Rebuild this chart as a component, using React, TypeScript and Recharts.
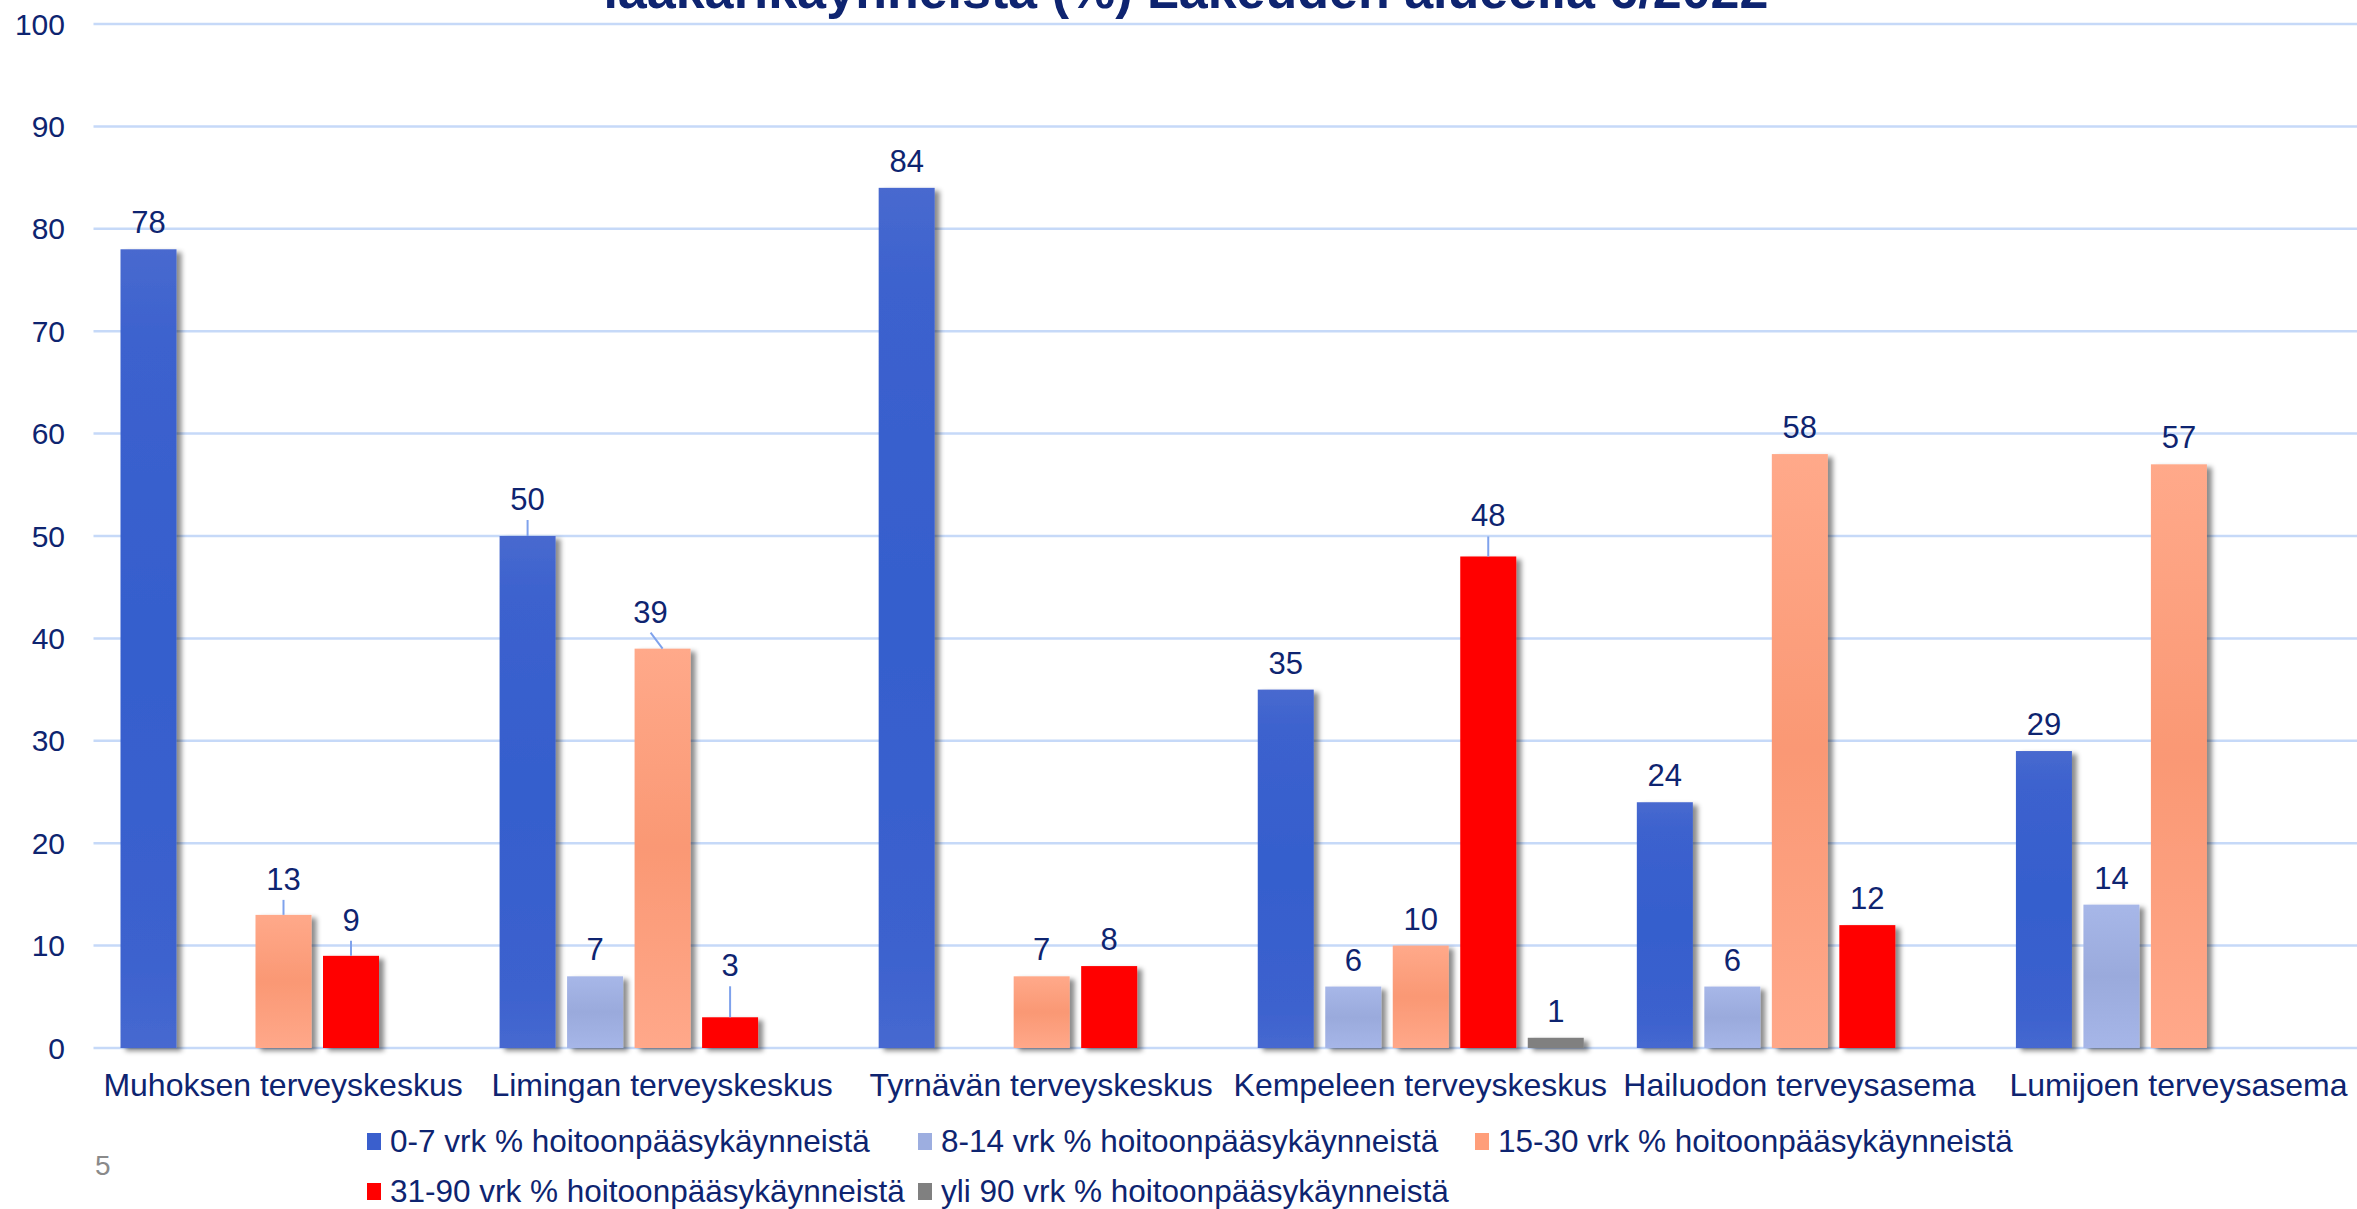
import { BarChart, Bar, XAxis, YAxis, CartesianGrid, Legend, LabelList } from 'recharts';

const NAVY = '#0E2470';
const GRID = '#C6D9F8';
const LEADER = '#7FA2EC';
const FONT = '"Liberation Sans", Arial, Helvetica, sans-serif';

const CATEGORIES = [
  'Muhoksen terveyskeskus',
  'Limingan terveyskeskus',
  'Tyrnävän terveyskeskus',
  'Kempeleen terveyskeskus',
  'Hailuodon terveysasema',
  'Lumijoen terveysasema',
];

const D0_7 = [78, 50, 84, 35, 24, 29];
const D8_14 = [null, 7, null, 6, 6, 14];
const D15_30 = [13, 39, 7, 10, 58, 57];
const D31_90 = [9, 3, 8, 48, 12, null];
const D90 = [null, null, null, 1, null, null];

const Y_TICKS = [0, 10, 20, 30, 40, 50, 60, 70, 80, 90, 100];

const SERIES = [
  { key: 'd0_7', name: '0-7 vrk % hoitoonpääsykäynneistä', values: D0_7, fill: 'url(#gBlue)', swatch: '#3A5FCD' },
  { key: 'd8_14', name: '8-14 vrk % hoitoonpääsykäynneistä', values: D8_14, fill: 'url(#gLight)', swatch: '#9DAEE0' },
  { key: 'd15_30', name: '15-30 vrk % hoitoonpääsykäynneistä', values: D15_30, fill: 'url(#gOrange)', swatch: '#FF9E7A' },
  { key: 'd31_90', name: '31-90 vrk % hoitoonpääsykäynneistä', values: D31_90, fill: '#FF0000', swatch: '#FF0000' },
  { key: 'd90', name: 'yli 90 vrk % hoitoonpääsykäynneistä', values: D90, fill: '#808080', swatch: '#808080' },
];

const data = CATEGORIES.map((name, i) => {
  const row: Record<string, string | number | null> = { name };
  SERIES.forEach((s) => { row[s.key] = s.values[i]; });
  return row;
});

// labels that were pushed up and tied back to the bar with a short line
const LEADERS: Record<string, { gap: number; dx?: number }> = {
  'd0_7-1': { gap: 26 },
  'd15_30-0': { gap: 25 },
  'd15_30-1': { gap: 26, dx: -12 },
  'd31_90-0': { gap: 25 },
  'd31_90-1': { gap: 41 },
  'd31_90-3': { gap: 30 },
  'd90-3': { gap: 18 },
};

const BarShape = (p: any) => {
  const { x, y, width, height, fill } = p;
  if (!height || height <= 0) return null;
  return <rect x={x} y={y} width={width} height={height} fill={fill} filter="url(#barShadow)" />;
};

const makeLabel = (key: string) => (p: any) => {
  const vb = p.viewBox || {};
  const x = Number(p.x ?? vb.x);
  const y = Number(p.y ?? vb.y);
  const width = Number(p.width ?? vb.width);
  const { value, index } = p;
  if (value == null || Number.isNaN(x)) return null;
  const cx = x + width / 2;
  const lead = LEADERS[`${key}-${index}`];
  const gap = lead ? lead.gap : 16;
  const dx = lead?.dx ?? 0;
  return (
    <g>
      {lead && (
        <line x1={cx + dx} y1={y - gap + 10} x2={cx} y2={y} stroke={LEADER} strokeWidth={2} />
      )}
      <text x={cx + dx} y={y - gap} textAnchor="middle" fontSize={31} fill={NAVY} fontFamily={FONT}>
        {value}
      </text>
    </g>
  );
};

const renderLegend = () => (
  <div style={{
    display: 'grid', gridTemplateColumns: '551px 557px 600px', fontFamily: FONT,
    fontSize: 31.5, lineHeight: '36px', color: NAVY, whiteSpace: 'nowrap',
  }}>
    {SERIES.map((s) => (
      <div key={s.key} style={{ display: 'flex', alignItems: 'center', height: 50 }}>
        <span style={{ display: 'inline-block', width: 14, height: 17, background: s.swatch, marginRight: 9 }} />
        <span>{s.name}</span>
      </div>
    ))}
  </div>
);

export default function App() {
  return (
    <div style={{
      position: 'absolute', left: 0, top: 0, width: 2357, height: 1209,
      overflow: 'hidden', background: '#fff', fontFamily: FONT,
    }}>
      <BarChart width={2368} height={1209} data={data}
                margin={{ top: 24, right: 0, bottom: 0, left: 0 }}
                barSize={56} barGap={11.5}>
        <defs>
          <linearGradient id="gBlue" x1="0" y1="0" x2="0" y2="1">
            <stop offset="0%" stopColor="#4869CF" />
            <stop offset="12%" stopColor="#3C62CE" />
            <stop offset="50%" stopColor="#355ECD" />
            <stop offset="88%" stopColor="#3C62CE" />
            <stop offset="100%" stopColor="#4668D0" />
          </linearGradient>
          <linearGradient id="gLight" x1="0" y1="0" x2="0" y2="1">
            <stop offset="0%" stopColor="#A7B7E8" />
            <stop offset="50%" stopColor="#9AAADC" />
            <stop offset="100%" stopColor="#A6B6E8" />
          </linearGradient>
          <linearGradient id="gOrange" x1="0" y1="0" x2="0" y2="1">
            <stop offset="0%" stopColor="#FFA98A" />
            <stop offset="50%" stopColor="#FA9874" />
            <stop offset="100%" stopColor="#FFA88A" />
          </linearGradient>
          <filter id="barShadow" filterUnits="userSpaceOnUse" x="0" y="0" width="2400" height="1209">
            <feDropShadow dx="5" dy="3" stdDeviation="2.5" floodColor="#000" floodOpacity="0.45" />
          </filter>
        </defs>
        <CartesianGrid vertical={false} stroke={GRID} strokeWidth={2.5} />
        <XAxis dataKey="name" interval={0} axisLine={false} tickLine={false} height={161}
               tickSize={6} tickMargin={19}
               tick={{ fontSize: 32, fill: NAVY, fontFamily: FONT }} />
        <YAxis domain={[0, 100]} ticks={Y_TICKS} interval={0} axisLine={false} tickLine={false}
               width={93.5} tickSize={6} tickMargin={22.5}
               tick={{ fontSize: 30, fill: NAVY, fontFamily: FONT }} />
        <Legend verticalAlign="middle" align="center" layout="horizontal"
                wrapperStyle={{ left: 367, top: 1116, width: 1750, height: 100 }}
                content={renderLegend} />
        {SERIES.map((s) => (
          <Bar key={s.key} dataKey={s.key} name={s.name} fill={s.fill}
               shape={BarShape} isAnimationActive={false}>
            <LabelList dataKey={s.key} content={makeLabel(s.key)} />
          </Bar>
        ))}
      </BarChart>

      <svg width={2357} height={60} style={{ position: 'absolute', left: 0, top: 0, pointerEvents: 'none' }}>
        <text x={1186} y={8} textAnchor="middle" fontSize={52} fontWeight="bold" fill={NAVY} fontFamily={FONT}>
          lääkärikäynneistä (%) Lakeuden alueella 6/2022
        </text>
      </svg>

      <div style={{
        position: 'absolute', left: 95, top: 1152, fontSize: 28, lineHeight: '28px',
        color: '#8A8A8A', fontFamily: FONT,
      }}>5</div>
    </div>
  );
}
